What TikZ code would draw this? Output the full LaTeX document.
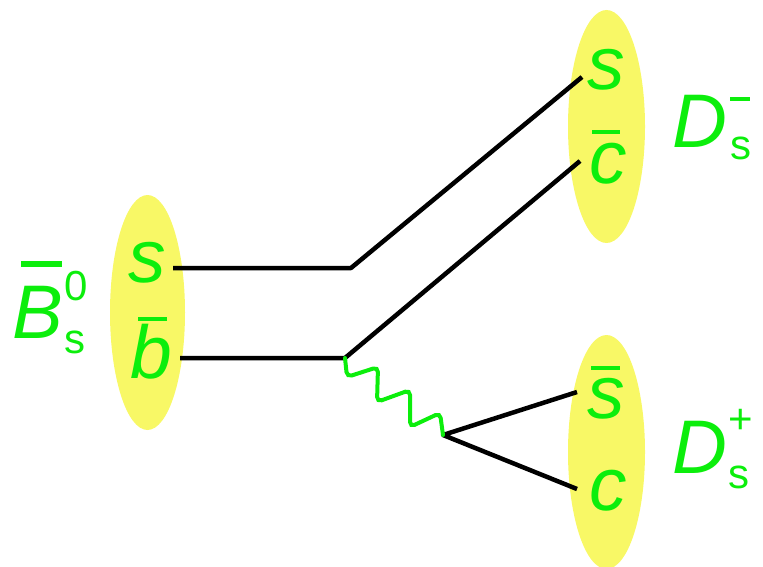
\documentclass[tikz,border=0pt]{standalone}
\usepackage{fontspec}
\setmainfont{Liberation Sans}
\definecolor{qgreen}{RGB}{12,238,12}
\definecolor{hadron}{RGB}{248,248,102}
% \ovl{shift}{bar width}{gap}{thickness}{text}: bar drawn over a letter
\newcommand\ovl[5]{\setbox0=\hbox{#5}\rlap{\kern#1\rule[\dimexpr\ht0+#3\relax]{#2}{#4}}\box0}
\newcommand\scr[1]{{\fontsize{42}{44}\selectfont #1}}
\begin{document}
\begin{tikzpicture}[x=1pt,y=-1pt,
  quark/.style={text=qgreen,font=\fontsize{75}{80}\selectfont\itshape,inner sep=0pt,anchor=base},
  meson/.style={text=qgreen,font=\fontsize{76}{80}\selectfont,inner sep=0pt,anchor=base west},
  blob/.style={fill=hadron,draw=none},
  line/.style={black,line width=4.5pt,line join=round},
  boson/.style={qgreen,line width=4pt,rounded corners=5pt,line cap=round}]
\useasboundingbox (0,0) rectangle (763,567);

% hadron blobs
\fill[blob] (147.5,312.5) ellipse [x radius=37.5, y radius=117.5];
\fill[blob] (606.5,126.5) ellipse [x radius=38.5, y radius=116.5];
\fill[blob] (606.5,452) ellipse [x radius=38.5, y radius=117];

% quark labels
\node[quark] (qs)  at (147,282) {s};
\node[quark] (qb)  at (151,378) {\ovl{8pt}{29pt}{3pt}{4pt}{b}};
\node[quark] (qs2) at (606,90)  {s};
\node[quark] (qc)  at (608,183) {\ovl{3pt}{28pt}{9pt}{4pt}{c}};
\node[quark] (qs3) at (606,418) {\ovl{4pt}{29pt}{8pt}{4pt}{s}};
\node[quark] (qc2) at (608,510) {c};

% meson labels
\node[meson] (Bs) at (12,338)
  {\ovl{9pt}{41pt}{19pt}{6pt}{\itshape B}\kern2pt\rlap{\raisebox{38pt}{\scr{0}}}\raisebox{-15pt}{\scr{s}}};
\node[meson] (Dm) at (672,147)
  {\itshape D\upshape\kern3pt\rlap{\raisebox{46pt}{\scr{\rule{20pt}{3.5pt}}}}\raisebox{-13pt}{\scr{s}}};
\node[meson] (Dp) at (672,473)
  {\itshape D\upshape\kern1pt\rlap{\raisebox{40pt}{\scr{+}}}\raisebox{-15pt}{\scr{s}}};

% line ends and vertices
\coordinate (sL) at (173,268);
\coordinate (bL) at (180,358);
\coordinate (k1) at (351,268);
\coordinate (k2) at (345,358);
\coordinate (sR) at (582,77);
\coordinate (cR) at (580,161);
\coordinate (w)  at (443,435);
\coordinate (sbR) at (577,392);
\coordinate (cB) at (577,489);

% quark lines
\draw[line] (sL) -- (k1) -- (sR);
\draw[line] (bL) -- (k2) -- (cR);
\draw[line] (sbR) -- (w) -- (cB);

% W boson: sawtooth wiggle from the vertex to the pair vertex
\draw[boson] (k2) -- (347,377) -- (378,367) -- (377,402) -- (410,390)
  -- (410,427) -- (440,413) -- (w);
\end{tikzpicture}
\end{document}
